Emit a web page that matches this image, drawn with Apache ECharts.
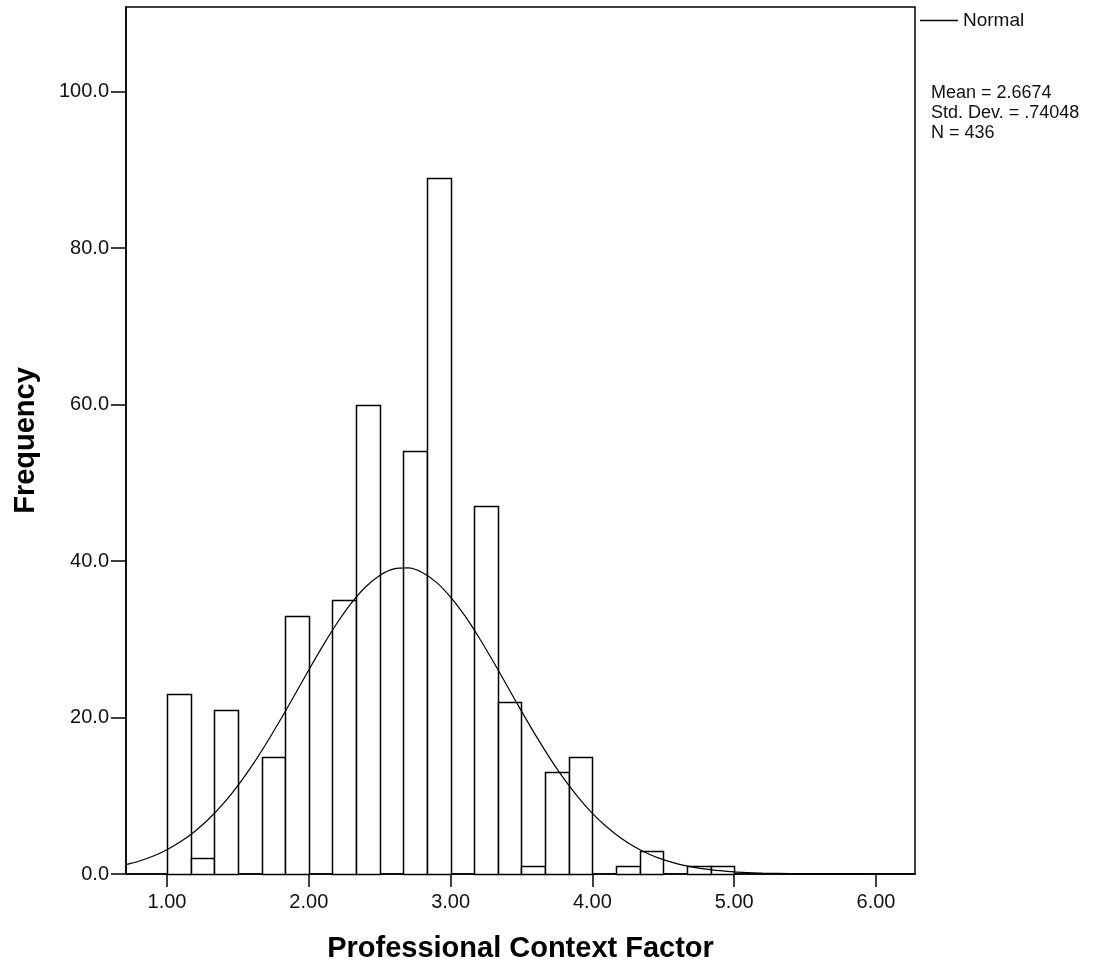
<!DOCTYPE html>
<html>
<head>
<meta charset="utf-8">
<script src="https://cdn.jsdelivr.net/npm/echarts@6/dist/echarts.min.js"></script>
<style>
html,body{margin:0;padding:0;background:#fff;}
#chart{width:1113px;height:968px;}
</style>
</head>
<body>
<div id="chart"></div>
<script>
// Histogram bins: lower edge of first bin and bin width (values are means of 6 items)
const binStart = 1.0;
const binWidth = 1 / 6;
// Frequencies per bin, starting at 1.00
const counts = [23, 2, 21, 0, 15, 33, 0, 35, 60, 0, 54, 89, 0, 47, 22, 1, 13, 15, 0, 1, 3, 0, 1, 1, 0];
// Normal curve (x, frequency)
const curveX = [0.71, 0.8, 0.9, 1.0, 1.1, 1.2, 1.3, 1.4, 1.5, 1.6, 1.7, 1.8, 1.9, 2.0, 2.1, 2.2, 2.3, 2.4, 2.5, 2.6, 2.7, 2.8, 2.9, 3.0, 3.1, 3.2, 3.3, 3.4, 3.5, 3.6, 3.7, 3.8, 3.9, 4.0, 4.1, 4.2, 4.3, 4.4, 4.5, 4.6, 4.7, 4.8, 4.9, 5.0, 5.1, 5.2, 5.4, 5.6, 5.8, 6.0, 6.27];
const curveY = [1.19, 1.63, 2.27, 3.10, 4.17, 5.50, 7.12, 9.05, 11.30, 13.85, 16.68, 19.71, 22.88, 26.08, 29.19, 32.08, 34.62, 36.68, 38.16, 38.99, 39.11, 38.53, 37.27, 35.39, 33.01, 30.23, 27.18, 24.00, 20.81, 17.71, 14.81, 12.15, 9.80, 7.75, 6.03, 4.60, 3.45, 2.53, 1.83, 1.30, 0.91, 0.62, 0.42, 0.27, 0.18, 0.11, 0.04, 0.015, 0.005, 0.001, 0.0002];
const xTicks = [1, 2, 3, 4, 5, 6];
const yTicks = [0, 20, 40, 60, 80, 100];
const statsLines = ['Mean = 2.6674', 'Std. Dev. = .74048', 'N = 436'];

const FONT = "'Liberation Sans', Arial, Helvetica, sans-serif";

const barData = [];
counts.forEach((c, i) => {
  if (c > 0) {
    const x0 = binStart + i * binWidth;
    barData.push([x0, x0 + binWidth, c]);
  }
});
const curveData = curveX.map((x, i) => [x, curveY[i]]);

const chart = echarts.init(document.getElementById('chart'), null, {renderer: 'canvas'});
chart.setOption({
  animation: false,
  backgroundColor: '#fff',
  grid: {
    left: 126, right: 198, top: 7, bottom: 92,
    show: true, borderColor: '#000', borderWidth: 1.5, backgroundColor: 'transparent'
  },
  legend: {
    left: 920, top: 11, padding: 0,
    data: [{name: 'Normal', icon: 'rect'}],
    itemWidth: 38, itemHeight: 1.3,
    textStyle: {fontFamily: FONT, fontSize: 19, color: '#111'},
    itemStyle: {color: '#000'}
  },
  graphic: [{
    type: 'text',
    left: 931, top: 83,
    style: {
      text: statsLines.join('\n'),
      font: '18px ' + FONT,
      lineHeight: 20,
      fill: '#111'
    }
  }],
  xAxis: {
    type: 'value',
    min: 0.711, max: 6.275,
    name: 'Professional Context Factor',
    nameLocation: 'middle',
    nameGap: 60,
    nameTextStyle: {fontFamily: FONT, fontSize: 29, fontWeight: 'bold', color: '#000'},
    axisLine: {show: true, lineStyle: {color: '#000', width: 1.5}},
    axisTick: {show: true, length: 13, customValues: xTicks, lineStyle: {color: '#000', width: 1.5}},
    axisLabel: {customValues: xTicks, formatter: v => v.toFixed(2), fontFamily: FONT, fontSize: 20, color: '#111', margin: 18},
    splitLine: {show: false}
  },
  yAxis: {
    type: 'value',
    min: 0, max: 110.8,
    name: 'Frequency',
    nameLocation: 'middle',
    nameGap: 86,
    nameTextStyle: {fontFamily: FONT, fontSize: 29, fontWeight: 'bold', color: '#000'},
    axisLine: {show: true, lineStyle: {color: '#000', width: 1.5}},
    axisTick: {show: true, length: 15, customValues: yTicks, lineStyle: {color: '#000', width: 1.5}},
    axisLabel: {customValues: yTicks, formatter: v => v.toFixed(1), fontFamily: FONT, fontSize: 20, color: '#111', margin: 17},
    splitLine: {show: false}
  },
  series: [{
    type: 'custom',
    name: 'Histogram',
    data: barData,
    encode: {x: [0, 1], y: 2},
    renderItem: function (params, api) {
      const p0 = api.coord([api.value(0), api.value(2)]);
      const p1 = api.coord([api.value(1), 0]);
      return {
        type: 'rect',
        shape: {x: Math.round(p0[0]) + 0.5, y: Math.round(p0[1]) + 0.5, width: Math.round(p1[0]) - Math.round(p0[0]), height: Math.round(p1[1]) - Math.round(p0[1])},
        style: {fill: '#fff', stroke: '#000', lineWidth: 1.5}
      };
    },
    z: 2
  }, {
    type: 'line',
    name: 'Normal',
    data: curveData,
    smooth: 0.3,
    symbol: 'none',
    showSymbol: false,
    clip: true,
    lineStyle: {color: '#000', width: 1.2},
    z: 3
  }]
});
</script>
</body>
</html>
